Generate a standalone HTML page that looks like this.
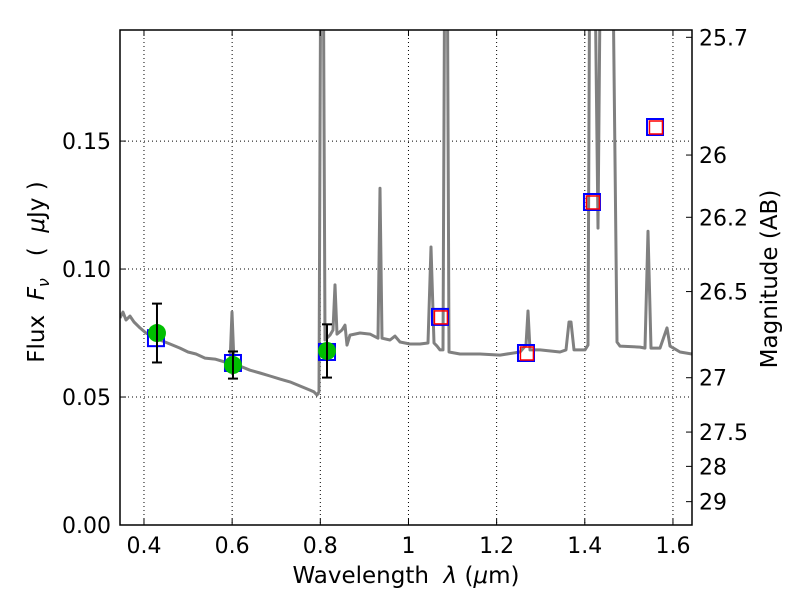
<!DOCTYPE html>
<html><head><meta charset="utf-8"><style>
html,body{margin:0;padding:0;background:#fff;}
svg{display:block;font-family:"DejaVu Sans","Liberation Sans",sans-serif;}
</style></head><body>
<svg id="chart" width="800" height="600" viewBox="0 0 800 600" xmlns="http://www.w3.org/2000/svg">
<rect x="0" y="0" width="800" height="600" fill="#fff"/>
<g id="grid"></g>
<g id="plot"></g>
<g id="axes"></g>
<text x="406" y="583" font-size="23" text-anchor="middle" xml:space="preserve">Wavelength  <tspan font-style="italic">λ</tspan> (<tspan font-style="italic">μ</tspan>m)</text>
<text transform="translate(44,272) rotate(-90)" font-size="23" text-anchor="middle" xml:space="preserve">Flux  <tspan font-style="italic">F</tspan><tspan font-style="italic" font-size="16" dy="5">ν</tspan><tspan dy="-5">   (  </tspan><tspan font-style="italic">μ</tspan>Jy )</text>
<text transform="translate(777,279) rotate(-90)" font-size="23" text-anchor="middle">Magnitude (AB)</text>
</svg>
<script>
const specWave=[0.3456,0.3524,0.3592,0.3682,0.3773,0.3909,0.4045,0.4181,0.4363,0.4590,0.4817,0.4998,0.5180,0.5384,0.5611,0.5838,0.5951,0.5996,0.6042,0.6178,0.6405,0.6632,0.6858,0.7085,0.7312,0.7539,0.7766,0.7857,0.7925,0.7970,0.8016,0.8061,0.8106,0.8220,0.8288,0.8333,0.8379,0.8492,0.8560,0.8606,0.8673,0.8900,0.9127,0.9309,0.9354,0.9400,0.9581,0.9694,0.9808,1.0034,1.0261,1.0443,1.0511,1.0579,1.0647,1.0715,1.0783,1.0828,1.0874,1.0919,1.1169,1.1622,1.2076,1.2530,1.2666,1.2711,1.2757,1.2984,1.3437,1.3574,1.3642,1.3687,1.3755,1.4005,1.4073,1.4118,1.4209,1.4300,1.4368,1.4617,1.4731,1.4799,1.5253,1.5366,1.5434,1.5502,1.5706,1.5865,1.5933,1.6160,1.6432];
const specFlux=[0.0809,0.0832,0.0801,0.0816,0.0793,0.0770,0.0750,0.0738,0.0723,0.0707,0.0691,0.0676,0.0668,0.0652,0.0648,0.0637,0.0633,0.0832,0.0633,0.0621,0.0605,0.0594,0.0582,0.0570,0.0559,0.0543,0.0527,0.0520,0.0508,0.0520,0.25,0.25,0.0723,0.0742,0.0762,0.0938,0.0746,0.0762,0.0781,0.0703,0.0742,0.0750,0.0746,0.0730,0.1316,0.0730,0.0723,0.0738,0.0715,0.0707,0.0707,0.0711,0.1086,0.0711,0.0699,0.0684,0.0684,0.25,0.25,0.0676,0.0668,0.0668,0.0664,0.0676,0.0703,0.0836,0.0684,0.0684,0.0676,0.0684,0.0793,0.0793,0.0684,0.0684,0.0703,0.25,0.25,0.1160,0.25,0.25,0.0715,0.0699,0.0695,0.0691,0.1148,0.0691,0.0691,0.0770,0.0699,0.0676,0.0668];
const photWave=[0.4295,0.6019,0.8152];
const photFlux=[0.0750,0.0625,0.0680];
const photErr=[0.0115,0.0053,0.0104];
const modelWave=[0.4272,0.6019,0.8152,1.0715,1.2666,1.4163,1.5593];
const modelFlux=[0.0730,0.0633,0.0676,0.0813,0.0672,0.1262,0.1555];
const predWave=[1.0725,1.2676,1.4173,1.5603];
const predFlux=[0.0813,0.0672,0.1262,0.1555];
const xTicks=[0.4,0.6,0.8,1.0,1.2,1.4,1.6];
const xTickLabels=["0.4","0.6","0.8","1","1.2","1.4","1.6"];
const yTicks=[0,0.05,0.10,0.15];
const yTickLabels=["0.00","0.05","0.10","0.15"];
const magTicks=[25.7,26,26.2,26.5,27,27.5,28,29];
const magTickLabels=["25.7","26","26.2","26.5","27","27.5","28","29"];

const L=120,R=692,T=30,B=525;
const xMin=0.3456,xMax=1.6432,yMin=0,yMax=0.1934;
const X=v=>L+(v-xMin)/(xMax-xMin)*(R-L);
const Y=v=>B-(v-yMin)/(yMax-yMin)*(B-T);
const magToFlux=m=>Math.pow(10,(23.9-m)/2.5);
const NS="http://www.w3.org/2000/svg";
function mk(tag,attrs,parent){const e=document.createElementNS(NS,tag);for(const k in attrs)e.setAttribute(k,attrs[k]);parent.appendChild(e);return e;}
const grid=document.getElementById('grid'),plot=document.getElementById('plot'),axes=document.getElementById('axes');

xTicks.forEach((t,i)=>{
  const x=X(t);
  const g=mk('line',{x1:x,x2:x,y1:T,y2:B,stroke:'#000','stroke-width':1,'stroke-dasharray':'1,3'},grid);
  
  
  mk('line',{x1:x,x2:x,y1:B,y2:B-6,stroke:'#000'},axes);
  mk('line',{x1:x,x2:x,y1:T,y2:T+6,stroke:'#000'},axes);
  const tx=mk('text',{x:x,y:B+28,'font-size':22,'text-anchor':'middle'},axes);
  tx.textContent=xTickLabels[i];
  
  
});
yTicks.forEach((t,i)=>{
  const y=Y(t);
  if(t>0){const g=mk('line',{x1:L,x2:R,y1:y,y2:y,stroke:'#000','stroke-width':1,'stroke-dasharray':'1,3'},grid);
  
  }
  mk('line',{x1:L,x2:L+6,y1:y,y2:y,stroke:'#000'},axes);
  const tx=mk('text',{x:L-9,y:y+8,'font-size':22,'text-anchor':'end'},axes);
  tx.textContent=yTickLabels[i];
  
  
});
magTicks.forEach((m,i)=>{
  const y=Y(magToFlux(m));
  mk('line',{x1:R-6,x2:R,y1:y,y2:y,stroke:'#000'},axes);
  const tx=mk('text',{x:R+7,y:y+8,'font-size':22},axes);
  tx.textContent=magTickLabels[i];
  
  
});

const clip=mk('clipPath',{id:'clipPlot'},plot);
mk('rect',{x:L,y:T,width:R-L,height:B-T},clip);
const inner=mk('g',{'clip-path':'url(#clipPlot)'},plot);
const d=specWave.map((w,i)=>(i?'L':'M')+X(w).toFixed(1)+','+Y(specFlux[i]).toFixed(1)).join(' ');
const sp=mk('path',{d:d,fill:'none',stroke:'#808080','stroke-width':3,'stroke-linejoin':'round'},inner);



modelWave.forEach((w,i)=>{
  const s=mk('rect',{x:X(w)-8,y:Y(modelFlux[i])-8,width:16,height:16,fill:'none',stroke:'#0000ff','stroke-width':2},inner);
  
  
});
predWave.forEach((w,i)=>{
  const s=mk('rect',{x:X(w)-6,y:Y(predFlux[i])-6,width:13,height:13,fill:'none',stroke:'#ff0000','stroke-width':1.5},inner);
  
  
});
photWave.forEach((w,i)=>{
  const x=X(w),y1=Y(photFlux[i]+photErr[i]),y2=Y(photFlux[i]-photErr[i]);
  const eb=mk('g',{},inner);
  
  
  mk('line',{x1:x,x2:x,y1:y1,y2:y2,stroke:'#000','stroke-width':2},eb);
  mk('line',{x1:x-5,x2:x+5,y1:y1,y2:y1,stroke:'#000','stroke-width':2},eb);
  mk('line',{x1:x-5,x2:x+5,y1:y2,y2:y2,stroke:'#000','stroke-width':2},eb);
  const c=mk('circle',{cx:x,cy:Y(photFlux[i]),r:9,fill:'#00bf00'},inner);
  
  
  mk('line',{x1:x,x2:x,y1:Y(photFlux[i])-9,y2:Y(photFlux[i])+9,stroke:'#000','stroke-width':2},inner);
});
const frame=mk('rect',{x:L,y:T,width:R-L,height:B-T,fill:'none',stroke:'#000','stroke-width':1.5},axes);


</script>
</body></html>
